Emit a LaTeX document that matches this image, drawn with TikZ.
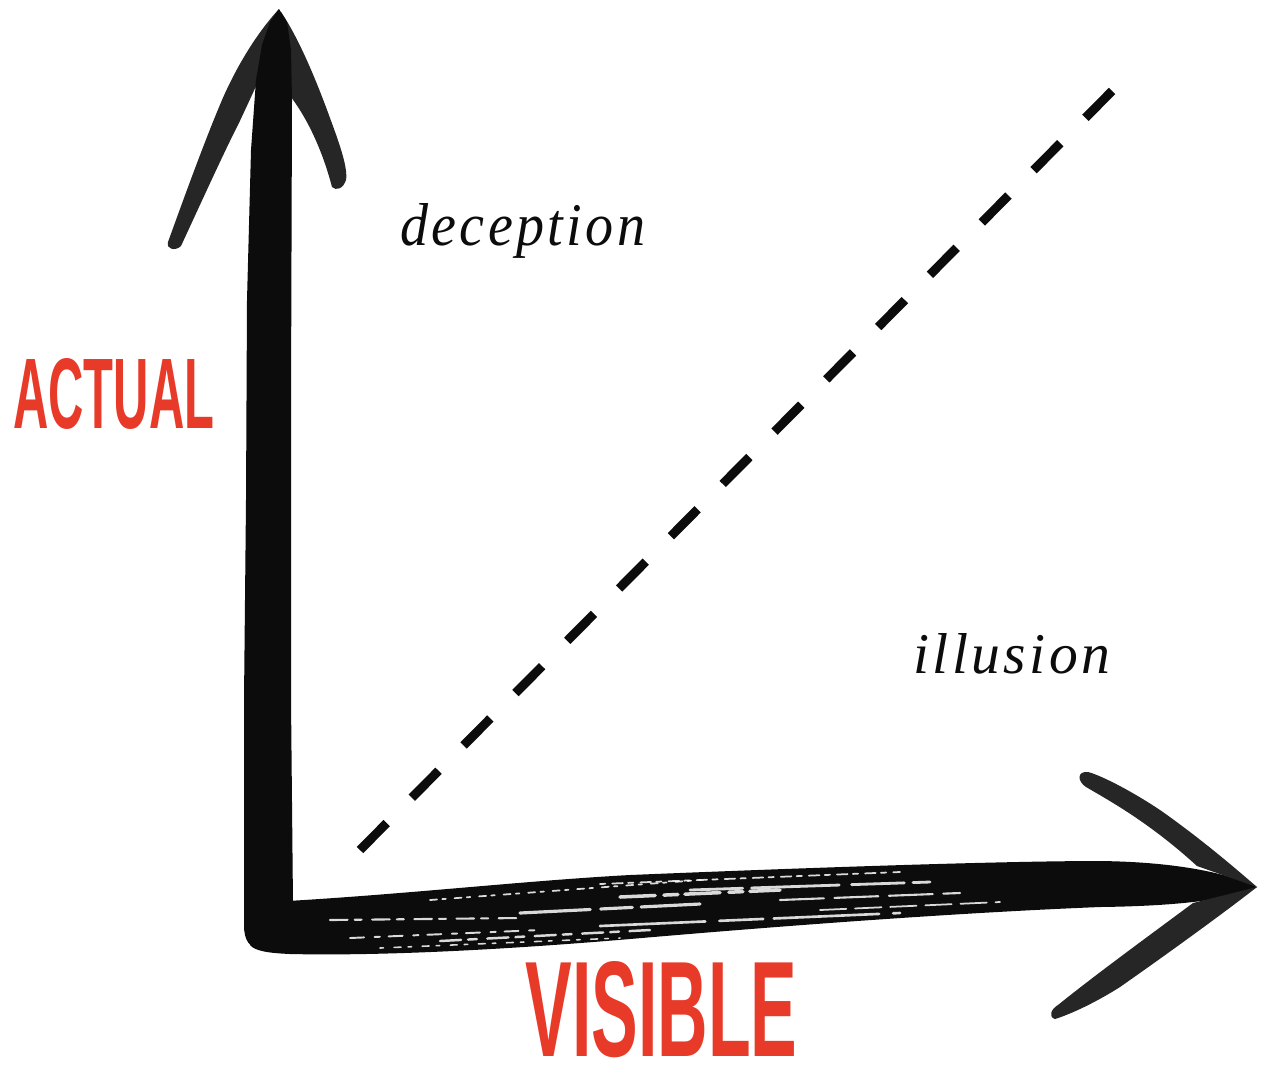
\documentclass[tikz,border=0pt]{standalone}
\usepackage{fontspec}
\usepackage{graphicx}
\setmainfont{Liberation Serif}
\newfontfamily\labelfont{Liberation Sans}
\newfontfamily\wordfont[LetterSpace=6]{Liberation Serif}
\definecolor{axisred}{RGB}{232,58,40}
\definecolor{inkblack}{RGB}{12,12,12}
\definecolor{barbgray}{RGB}{38,38,38}
\tikzset{
  ink/.style={fill=inkblack, draw=none},
  barb/.style={fill=barbgray, draw=none},
  streak/.style={draw=white, opacity=0.85, line cap=round},
  axislabel/.style={text=axisred, inner sep=0pt, anchor=north west, font=\labelfont\bfseries},
  word/.style={text=inkblack, inner sep=0pt, anchor=base west, font=\wordfont\itshape},
  dashline/.style={draw=inkblack, line width=5.1pt, line cap=butt, dash pattern=on 21.6pt off 20.3pt}
}
\begin{document}
\begin{tikzpicture}[x=0.02cm,y=-0.02cm]
\fill[white] (0,0) rectangle (1263,1069);
\useasboundingbox (0,0) rectangle (1263,1069);

% dashed diagonal
\coordinate (dstart) at (360,850);
\coordinate (dend) at (1113,90);
\draw[dashline] (dstart) -- (dend);

% vertical arrow: barbs
\fill[barb] (279,9) .. controls (255,35) and (235,70) .. (222,100)
  .. controls (205,140) and (185,195) .. (168,242)
  .. controls (166,250) and (176,251) .. (181,246)
  .. controls (200,205) and (225,150) .. (238,125)
  .. controls (246,108) and (252,95) .. (257,84) -- cycle;
\fill[barb] (281,12) .. controls (300,40) and (318,85) .. (330,118)
  .. controls (340,145) and (348,168) .. (346,180)
  .. controls (343,189) and (336,191) .. (332,187)
  .. controls (325,160) and (312,125) .. (291,97) -- cycle;
% vertical shaft
\fill[ink] (256,80) -- (262,45) -- (270,22) -- (279,9) -- (287,22) -- (291,50)
  -- (292,100) -- (291,400) -- (291,700) -- (293,905) -- (292,948)
  -- (262,950) .. controls (249,948) and (244,940) .. (244,925)
  -- (244,700) -- (246,500) -- (247,300) -- (251,150) -- cycle;

% horizontal shaft
\fill[ink] (270,902) .. controls (400,895) and (520,881) .. (630,875)
  .. controls (800,868) and (1000,861) .. (1100,861)
  .. controls (1180,862) and (1230,874) .. (1257,887)
  .. controls (1235,899) and (1180,906) .. (1100,907)
  .. controls (1000,911) and (850,920) .. (630,939)
  .. controls (500,950) and (380,956) .. (290,954)
  .. controls (268,953) and (255,951) .. (250,945) -- cycle;
% horizontal arrow barbs
\fill[barb] (1257,887) .. controls (1235,868) and (1200,838) .. (1160,810)
  .. controls (1130,790) and (1100,775) .. (1088,772)
  .. controls (1077,771) and (1077,781) .. (1086,787)
  .. controls (1110,801) and (1150,823) .. (1197,866) -- cycle;
\fill[barb] (1257,887) .. controls (1225,912) and (1170,952) .. (1120,987)
  .. controls (1090,1006) and (1065,1016) .. (1055,1019)
  .. controls (1048,1017) and (1051,1009) .. (1058,1005)
  .. controls (1095,975) and (1150,935) .. (1193,903) -- cycle;

% dry-brush streaks
\draw[streak, line width=1.8pt, dash pattern=on 40pt off 6pt on 18pt off 5pt] (520,913) -- (700,904);
\draw[streak, line width=1.5pt, dash pattern=on 60pt off 8pt on 25pt off 6pt] (600,926) -- (900,913);
\draw[streak, line width=1.6pt, dash pattern=on 30pt off 5pt on 50pt off 7pt] (690,890) -- (930,882);
\draw[streak, line width=1.2pt, dash pattern=on 25pt off 6pt] (780,900) -- (960,893);
\draw[streak, line width=1.4pt, dash pattern=on 12pt off 4pt on 5pt off 6pt] (440,941) -- (650,930);
\draw[streak, line width=1.1pt, dash pattern=on 8pt off 6pt on 3pt off 5pt] (350,938) -- (540,930);
\draw[streak, line width=2.0pt, dash pattern=on 20pt off 5pt on 8pt off 4pt] (620,897) -- (780,890);
\draw[streak, line width=1.0pt, dash pattern=on 4pt off 3pt on 2pt off 5pt] (430,900) -- (700,880);
\draw[streak, line width=1.0pt, dash pattern=on 3pt off 4pt on 6pt off 3pt] (600,884) -- (900,872);
\draw[streak, line width=0.9pt, dash pattern=on 2pt off 6pt on 4pt off 4pt] (380,948) -- (620,938);
\draw[streak, line width=1.2pt, dash pattern=on 10pt off 4pt on 4pt off 6pt] (330,920) -- (520,918);
\draw[streak, line width=1.0pt, dash pattern=on 15pt off 5pt] (820,910) -- (1000,902);

% labels
\node[axislabel] (actual) at (13,358) {\resizebox{4.02cm}{1.40cm}{ACTUAL}};
\node[axislabel] (visible) at (525,961) {\resizebox{5.44cm}{1.90cm}{VISIBLE}};
\node[word] (deception) at (400,245) {\resizebox{4.9cm}{0.84cm}{deception}};
\node[word] (illusion) at (913,673) {\resizebox{3.94cm}{0.80cm}{illusion}};
\end{tikzpicture}
\end{document}
